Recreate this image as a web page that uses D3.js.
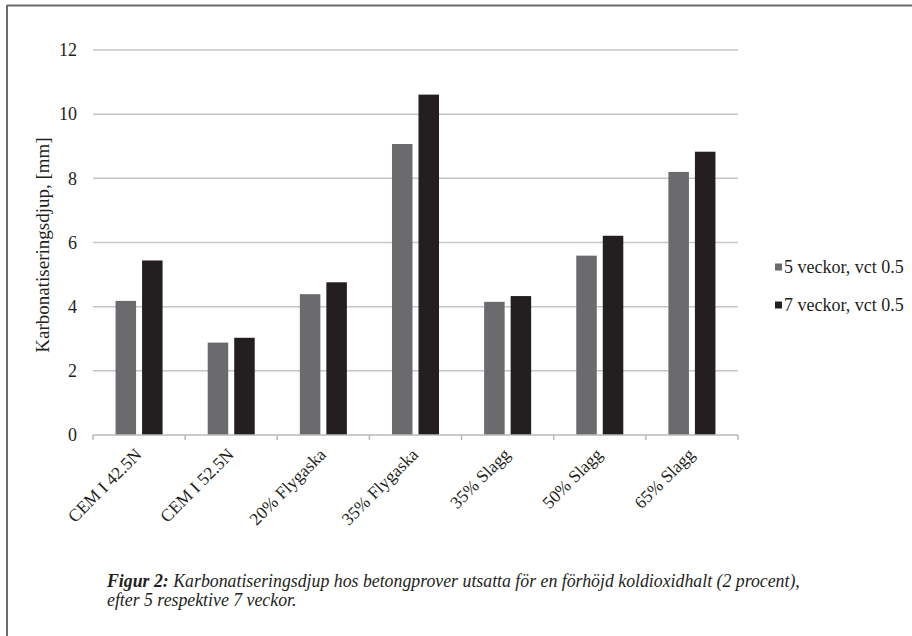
<!DOCTYPE html>
<html>
<head>
<meta charset="utf-8">
<script src="https://cdn.jsdelivr.net/npm/d3@7"></script>
<style>
html,body{margin:0;padding:0;background:#fff;}
svg{display:block;}
text,tspan{font-family:"Liberation Serif","Times New Roman",Times,serif;fill:#231f20;}
</style>
</head>
<body>
<svg id="chart" width="912" height="636"></svg>
<script>
const categories = ["CEM I 42.5N","CEM I 52.5N","20% Flygaska","35% Flygaska","35% Slagg","50% Slagg","65% Slagg"];
const seriesNames = ["5 veckor, vct 0.5","7 veckor, vct 0.5"];
const weeks5 = [4.18, 2.88, 4.39, 9.07, 4.15, 5.59, 8.20];
const weeks7 = [5.44, 3.03, 4.76, 10.61, 4.33, 6.21, 8.83];
const yTicks = [0,2,4,6,8,10,12];
const yTitle = "Karbonatiseringsdjup, [mm]";
const captionBold = "Figur 2:";
const captionLine1 = " Karbonatiseringsdjup hos betongprover utsatta för en förhöjd koldioxidhalt (2 procent),";
const captionLine2 = "efter 5 respektive 7 veckor.";

const FONT = '"Liberation Serif","Times New Roman",Times,serif';
const colors = ["#6b6b6e","#231f20"];
const svg = d3.select("#chart");

// frame
svg.append("line").attr("x1",7).attr("x2",912).attr("y1",5.5).attr("y2",5.5).attr("stroke","#6b6b6b").attr("stroke-width",2);
svg.append("line").attr("x1",7).attr("x2",7).attr("y1",5).attr("y2",636).attr("stroke","#6b6b6b").attr("stroke-width",2);

const x = d3.scaleBand().domain(categories).range([93,738]).paddingInner(0).paddingOuter(0);
const xs = d3.scaleBand().domain(seriesNames).range([0,x.bandwidth()]).paddingInner(0.226).paddingOuter(0.851);
const y = d3.scaleLinear().domain([0,12]).range([435,50]);

// gridlines
svg.append("g").selectAll("line").data(yTicks.filter(d=>d>0)).join("line")
  .attr("x1",93).attr("x2",738).attr("y1",d=>y(d)).attr("y2",d=>y(d))
  .attr("stroke","#c6c6ca").attr("stroke-width",1.5);

// y tick labels
svg.append("g").selectAll("text").data(yTicks).join("text")
  .attr("x",77).attr("y",d=>y(d)).attr("dy","0.35em").attr("text-anchor","end")
  .attr("font-family",FONT).attr("font-size",18).text(d=>d);

// bars
const data = categories.map((c,i)=>({cat:c, vals:[weeks5[i],weeks7[i]]}));
const groups = svg.append("g").selectAll("g").data(data).join("g")
  .attr("transform",d=>`translate(${x(d.cat)},0)`);
groups.selectAll("rect").data(d=>d.vals.map((v,j)=>({s:seriesNames[j],v,j}))).join("rect")
  .attr("x",d=>xs(d.s)).attr("width",xs.bandwidth())
  .attr("y",d=>y(d.v)).attr("height",d=>y(0)-y(d.v))
  .attr("fill",d=>colors[d.j]);

// x axis line & ticks
svg.append("line").attr("x1",93).attr("x2",738).attr("y1",y(0)).attr("y2",y(0))
  .attr("stroke","#b9b9bd").attr("stroke-width",1.5);
const bounds = categories.map(c=>x(c)).concat([x(categories[categories.length-1])+x.bandwidth()]);
svg.append("g").selectAll("line").data(bounds).join("line")
  .attr("x1",d=>d).attr("x2",d=>d).attr("y1",y(0)).attr("y2",y(0)+5)
  .attr("stroke","#b9b9bd").attr("stroke-width",1.5);

// x labels
svg.append("g").selectAll("text").data(categories).join("text")
  .attr("transform",c=>`translate(${x(c)+x.bandwidth()/2-5},${y(0)+12}) rotate(-45)`)
  .attr("text-anchor","end").attr("dy","0.7em")
  .attr("font-family",FONT).attr("font-size",17.5).text(c=>c);

// y title
svg.append("text").attr("transform","translate(42,245) rotate(-90)")
  .attr("text-anchor","middle").attr("dy","0.35em")
  .attr("font-family",FONT).attr("font-size",19).text(yTitle);

// legend
const leg = svg.append("g").selectAll("g").data(seriesNames).join("g")
  .attr("transform",(d,i)=>`translate(775,${267+i*38})`);
leg.append("rect").attr("x",0).attr("y",-3.5).attr("width",7).attr("height",7).attr("fill",(d,i)=>colors[i]);
leg.append("text").attr("x",9).attr("dy","0.35em")
  .attr("font-family",FONT).attr("font-size",18).text(d=>d);

// caption
const cap = svg.append("text").attr("x",107).attr("y",587)
  .attr("font-family",FONT).attr("font-size",17.8).attr("font-style","italic");
cap.append("tspan").attr("font-weight","bold").text(captionBold);
cap.append("tspan").text(captionLine1);
svg.append("text").attr("x",107).attr("y",606)
  .attr("font-family",FONT).attr("font-size",17.8).attr("font-style","italic").text(captionLine2);
</script>
</body>
</html>
